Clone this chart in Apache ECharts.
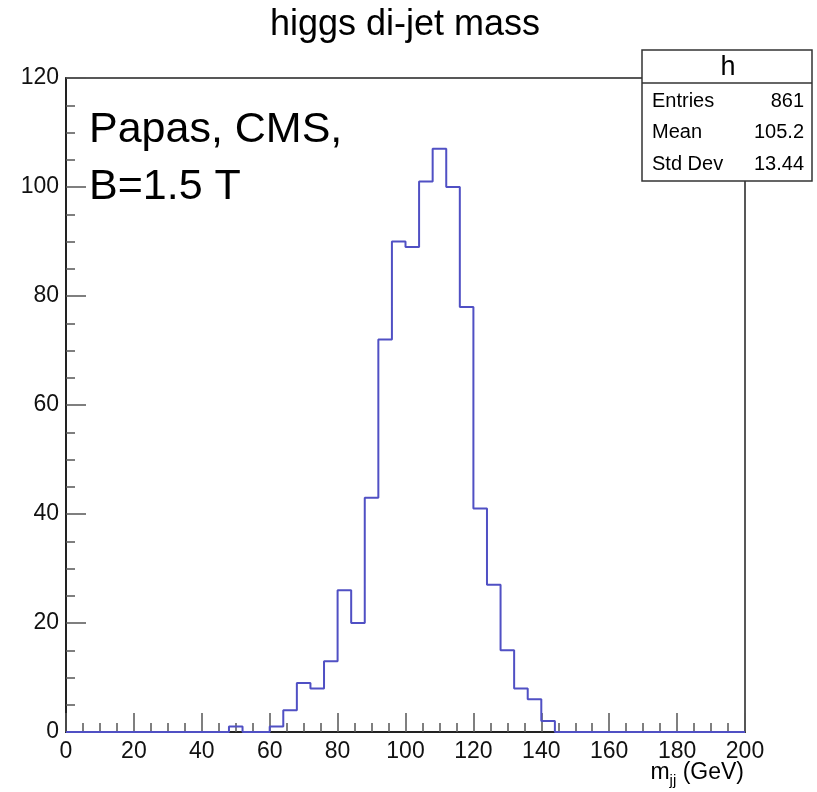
<!DOCTYPE html>
<html>
<head>
<meta charset="utf-8">
<script src="https://cdn.jsdelivr.net/npm/echarts@6/dist/echarts.min.js"></script>
<style>
html,body{margin:0;padding:0;background:#fff;}
#chart{width:817px;height:792px;}
</style>
</head>
<body>
<div id="chart"></div>
<script>
// Histogram: 50 bins of width 4 GeV from 0 to 200
var xMin = 0;
var xMax = 200;
var binWidth = 4;
var binCounts = [
  0,0,0,0,0,0,0,0,0,0,
  0,0,1,0,0,1,4,9,8,13,
  26,20,43,72,90,89,101,107,100,78,
  41,27,15,8,6,2,0,0,0,0,
  0,0,0,0,0,0,0,0,0,0
];
var xTicks = [0,20,40,60,80,100,120,140,160,180,200];
var yTicks = [0,20,40,60,80,100,120];
var titleText = 'higgs di-jet mass';
var noteLines = ['Papas, CMS,', 'B=1.5 T'];
var statsName = 'h';
var statsLabels = ['Entries', 'Mean', 'Std Dev'];
var statsValues = ['861', '105.2', '13.44'];

// step outline points: lower edge of each bin, plus closing point at xMax
var stepData = binCounts.map(function (v, i) { return [xMin + i * binWidth, v]; });
stepData.push([xMax, binCounts[binCounts.length - 1]]);

var FONT = '"Liberation Sans", Arial, Helvetica, sans-serif';
var chart = echarts.init(document.getElementById('chart'), null, {renderer: 'canvas'});

var gridL = 66, gridT = 78, gridW = 679, gridH = 654;
var bx = 642, by = 50, bw = 170, bh = 131;

var graphics = [
  {type: 'text', x: 405, y: 25, style: {text: titleText, font: '36px ' + FONT, fill: '#000', textAlign: 'center', textVerticalAlign: 'middle'}},
  {type: 'text', left: 89, top: 102, style: {text: noteLines.join('\n'), font: '43px ' + FONT, fill: '#000', lineHeight: 57}},
  {type: 'text', right: 817 - 744, top: 761, style: {
    text: '{a|m}{s|jj}{a| (GeV)}', font: '23px ' + FONT, fill: '#000',
    rich: {a: {fontSize: 23, fontFamily: FONT, fill: '#000', verticalAlign: 'bottom'},
           s: {fontSize: 15, fontFamily: FONT, fill: '#000', verticalAlign: 'bottom', padding: [0,0,-4,0]}}
  }},
  {type: 'rect', shape: {x: bx, y: by, width: bw, height: bh}, style: {fill: '#fff', stroke: '#333', lineWidth: 1.5}, z: 100},
  {type: 'line', shape: {x1: bx, y1: by + 33, x2: bx + bw, y2: by + 33}, style: {stroke: '#333', lineWidth: 1.5}, z: 101},
  {type: 'text', x: bx + bw / 2 + 1, y: by + 18, style: {text: statsName, font: '27px ' + FONT, fill: '#000', textAlign: 'center', textVerticalAlign: 'middle'}, z: 102}
];
statsLabels.forEach(function (lab, i) {
  var cy = by + 51 + i * 31.5;
  graphics.push({type: 'text', x: bx + 10, y: cy, style: {text: lab, font: '20px ' + FONT, fill: '#000', textAlign: 'left', textVerticalAlign: 'middle'}, z: 102});
  graphics.push({type: 'text', x: bx + bw - 8, y: cy, style: {text: statsValues[i], font: '20px ' + FONT, fill: '#000', textAlign: 'right', textVerticalAlign: 'middle'}, z: 102});
});

chart.setOption({
  backgroundColor: '#fff',
  animation: false,
  grid: {left: gridL, top: gridT, width: gridW, height: gridH, show: true, borderColor: '#222', borderWidth: 1.5, backgroundColor: 'transparent'},
  xAxis: {
    type: 'value', min: xMin, max: xMax, interval: 20,
    axisLine: {show: true, onZero: false, lineStyle: {color: '#222', width: 2}},
    axisTick: {show: true, inside: true, length: 19, lineStyle: {color: '#555', width: 1.5}},
    minorTick: {show: true, splitNumber: 4, length: 9, lineStyle: {color: '#555', width: 1.5}},
    splitLine: {show: false},
    axisLabel: {margin: 8, fontSize: 23, fontFamily: FONT, color: '#111',
      formatter: function (v) { return xTicks.indexOf(v) >= 0 ? String(v) : ''; }, showMinLabel: true, showMaxLabel: true}
  },
  yAxis: {
    type: 'value', min: 0, max: 120, interval: 20,
    axisLine: {show: true, onZero: false, lineStyle: {color: '#222', width: 2}},
    axisTick: {show: true, inside: true, length: 20, lineStyle: {color: '#555', width: 1.5}},
    minorTick: {show: true, splitNumber: 4, length: 9, lineStyle: {color: '#555', width: 1.5}},
    splitLine: {show: false},
    axisLabel: {margin: 7, fontSize: 23, fontFamily: FONT, color: '#111',
      formatter: function (v) { return yTicks.indexOf(v) >= 0 ? String(v) : ''; }}
  },
  series: [{
    type: 'line', step: 'end', data: stepData, symbol: 'none',
    lineStyle: {color: '#5050c4', width: 2}, z: 5
  }],
  graphic: graphics
});
</script>
</body>
</html>
